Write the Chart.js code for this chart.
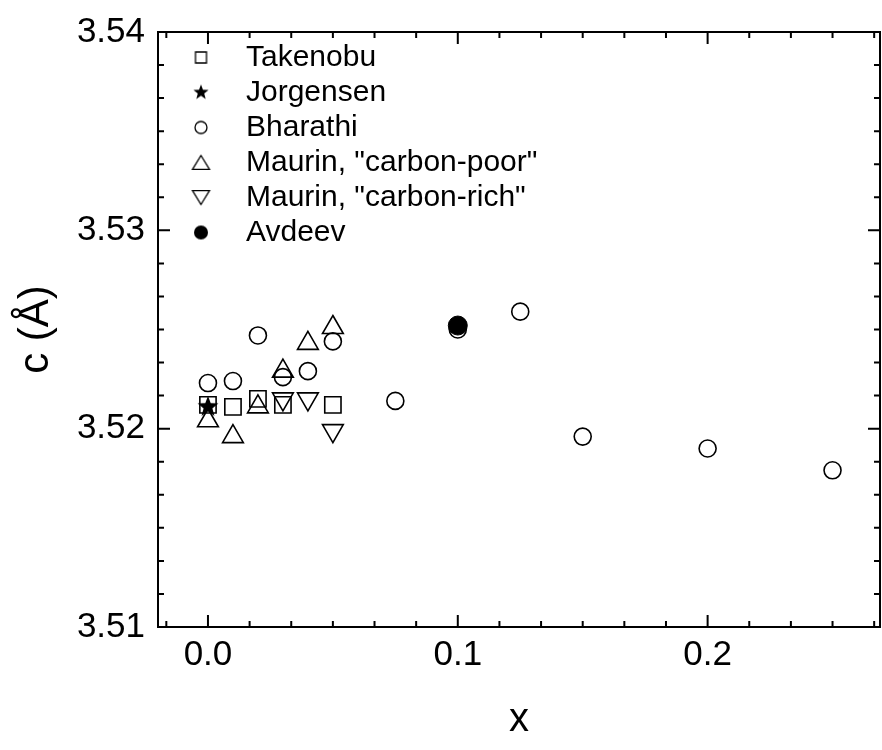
<!DOCTYPE html>
<html>
<head>
<meta charset="utf-8">
<script src="https://cdn.jsdelivr.net/npm/chart.js@4.4.1/dist/chart.umd.min.js"></script>
<style>
  html, body { margin: 0; padding: 0; background: #fff; }
</style>
</head>
<body>
<canvas id="grafica" width="882" height="750"></canvas>
<script>
// Datos
const takenobuX = [0, 0.01, 0.02, 0.03, 0.05];
const takenobuY = [3.5212, 3.5211, 3.5215, 3.5212, 3.5212];
const jorgensenX = [0];
const jorgensenY = [3.5211];
const bharathiX = [0, 0.01, 0.02, 0.03, 0.04, 0.05, 0.075, 0.1, 0.125, 0.15, 0.2, 0.25];
const bharathiY = [3.5223, 3.5224, 3.5247, 3.5226, 3.5229, 3.5244, 3.5214, 3.5250, 3.5259, 3.5196, 3.5190, 3.5179];
const pobreX = [0, 0.01, 0.02, 0.03, 0.04, 0.05];
const pobreY = [3.5204, 3.5196, 3.5211, 3.5229, 3.5243, 3.5251];
const ricoX = [0.03, 0.04, 0.05];
const ricoY = [3.5215, 3.5215, 3.5199];
const avdeevX = [0.1];
const avdeevY = [3.5252];

const etiquetas = ['Takenobu', 'Jorgensen', 'Bharathi', 'Maurin, "carbon-poor"', 'Maurin, "carbon-rich"', 'Avdeev'];
const xTicks = [0, 0.1, 0.2];
const xTickLabels = ['0.0', '0.1', '0.2'];
const yTicks = [3.51, 3.52, 3.53, 3.54];
const yTickLabels = ['3.51', '3.52', '3.53', '3.54'];

const fuente = "'Liberation Sans', Arial, sans-serif";

function puntos(xs, ys) {
  return xs.map((x, i) => ({ x: x, y: ys[i] }));
}

// simbolos dibujados en un canvas pequeño (estrella y leyenda)
function simbolo(tipo, tam) {
  const s = Math.ceil(tam + 4);
  const c = document.createElement('canvas');
  c.width = s; c.height = s;
  const g = c.getContext('2d');
  const m = s / 2;
  g.strokeStyle = '#000';
  g.fillStyle = '#000';
  g.lineWidth = 1.3;
  g.beginPath();
  if (tipo === 'estrella') {
    for (let i = 0; i < 10; i++) {
      const r = i % 2 ? tam / 2 * 0.42 : tam / 2;
      const a = -Math.PI / 2 + i * Math.PI / 5;
      g.lineTo(m + r * Math.cos(a), m + r * Math.sin(a));
    }
    g.closePath();
    g.fill();
  } else if (tipo === 'cuadro') {
    g.rect(m - tam / 2, m - tam / 2, tam, tam);
    g.stroke();
  } else if (tipo === 'circulo' || tipo === 'punto') {
    g.arc(m, m, tam / 2, 0, Math.PI * 2);
    if (tipo === 'punto') g.fill(); else g.stroke();
  } else if (tipo === 'triangulo') {
    const h = tam * 0.82;
    g.moveTo(m, m - h / 2);
    g.lineTo(m + tam / 2, m + h / 2);
    g.lineTo(m - tam / 2, m + h / 2);
    g.closePath();
    g.stroke();
  } else if (tipo === 'trianguloInv') {
    const h = tam * 0.82;
    g.moveTo(m, m + h / 2);
    g.lineTo(m + tam / 2, m - h / 2);
    g.lineTo(m - tam / 2, m - h / 2);
    g.closePath();
    g.stroke();
  }
  return c;
}

const estrellaGrande = simbolo('estrella', 22);
const simbolosLeyenda = [
  simbolo('cuadro', 11),
  simbolo('estrella', 16),
  simbolo('circulo', 12),
  simbolo('triangulo', 17),
  simbolo('trianguloInv', 17),
  simbolo('punto', 14)
];

// marco con marcas hacia dentro en los cuatro lados
const marcoEjes = {
  id: 'marcoEjes',
  afterLayout(chart) {
    const a = chart.chartArea;
    const ley = chart.legend;
    ley.left = a.left + 23;
    ley.top = a.top + 5.5;
    ley.bottom = a.bottom;
  },
  beforeDatasetsDraw(chart) {
    const { ctx, chartArea: a, scales: { x, y } } = chart;
    ctx.save();
    ctx.strokeStyle = '#000';
    ctx.lineWidth = 2;
    ctx.strokeRect(a.left, a.top, a.right - a.left, a.bottom - a.top);
    ctx.beginPath();
    for (let k = -1; k <= 16; k++) {
      const px = x.getPixelForValue(k / 60);
      if (px < a.left + 1 || px > a.right - 1) continue;
      const largo = k % 6 === 0 ? 12 : 6;
      ctx.moveTo(px, a.bottom); ctx.lineTo(px, a.bottom - largo);
      ctx.moveTo(px, a.top); ctx.lineTo(px, a.top + largo);
    }
    for (let k = 0; k <= 18; k++) {
      const py = y.getPixelForValue(3.51 + k * 0.01 / 6);
      const largo = k % 6 === 0 ? 12 : 6;
      ctx.moveTo(a.left, py); ctx.lineTo(a.left + largo, py);
      ctx.moveTo(a.right, py); ctx.lineTo(a.right - largo, py);
    }
    ctx.stroke();
    ctx.restore();
  }
};

const ctx = document.getElementById('grafica').getContext('2d');
const vacio = 'rgba(0,0,0,0)';

new Chart(ctx, {
  type: 'scatter',
  data: {
    datasets: [
      { label: etiquetas[0], data: puntos(takenobuX, takenobuY), pointStyle: 'rect', pointRadius: 11.5,
        borderColor: '#000', backgroundColor: vacio, borderWidth: 1.6 },
      { label: etiquetas[1], data: puntos(jorgensenX, jorgensenY), pointStyle: estrellaGrande, pointRadius: 11,
        borderColor: '#000', backgroundColor: '#000', borderWidth: 0 },
      { label: etiquetas[2], data: puntos(bharathiX, bharathiY), pointStyle: 'circle', pointRadius: 8.5,
        borderColor: '#000', backgroundColor: vacio, borderWidth: 1.6 },
      { label: etiquetas[3], data: puntos(pobreX, pobreY), pointStyle: 'triangle', pointRadius: 12,
        borderColor: '#000', backgroundColor: vacio, borderWidth: 1.6 },
      { label: etiquetas[4], data: puntos(ricoX, ricoY), pointStyle: 'triangle', rotation: 180, pointRotation: 180, pointRadius: 12,
        borderColor: '#000', backgroundColor: vacio, borderWidth: 1.6 },
      { label: etiquetas[5], data: puntos(avdeevX, avdeevY), pointStyle: 'circle', pointRadius: 9.5,
        borderColor: '#000', backgroundColor: '#000', borderWidth: 1 }
    ]
  },
  options: {
    responsive: false,
    animation: false,
    layout: { autoPadding: false, padding: { left: 0, right: 2, top: 32, bottom: 0 } },
    plugins: {
      tooltip: { enabled: false },
      legend: {
        position: 'chartArea',
        align: 'start',
        labels: {
          usePointStyle: true,
          boxWidth: 30,
          boxHeight: 30,
          padding: 5,
          color: '#000',
          font: { family: fuente, size: 30 },
          generateLabels(chart) {
            return chart.data.datasets.map((ds, i) => ({
              text: '\u2002' + ds.label,
              pointStyle: simbolosLeyenda[i],
              rotation: 0,
              datasetIndex: i,
              hidden: false,
              fontColor: '#000',
              lineWidth: 0,
              strokeStyle: vacio,
              fillStyle: vacio
            }));
          }
        }
      }
    },
    scales: {
      x: {
        type: 'linear',
        min: -0.02,
        max: 0.269,
        grid: { display: false, drawTicks: false },
        border: { display: false },
        afterBuildTicks: s => { s.ticks = xTicks.map(v => ({ value: v })); },
        afterFit: s => { s.height = 123; s.paddingLeft = 0; s.paddingRight = 0; },
        ticks: {
          padding: 7,
          color: '#000',
          font: { family: fuente, size: 35 },
          maxRotation: 0,
          callback: (v, i) => xTickLabels[i]
        },
        title: {
          display: true,
          text: 'x',
          color: '#000',
          font: { family: fuente, size: 40 },
          padding: { top: 0, bottom: 6 }
        }
      },
      y: {
        type: 'linear',
        min: 3.51,
        max: 3.54,
        grid: { display: false, drawTicks: false },
        border: { display: false },
        afterBuildTicks: s => { s.ticks = yTicks.map(v => ({ value: v })); },
        afterFit: s => { s.width = 158; s.paddingTop = 0; s.paddingBottom = 0; },
        ticks: {
          padding: 13,
          color: '#000',
          font: { family: fuente, size: 35 },
          callback: (v, i) => yTickLabels[i]
        },
        title: {
          display: true,
          text: 'c (Å)',
          color: '#000',
          font: { family: fuente, size: 42 },
          padding: { top: 11, bottom: 0 }
        }
      }
    }
  },
  plugins: [marcoEjes]
});
</script>
</body>
</html>
